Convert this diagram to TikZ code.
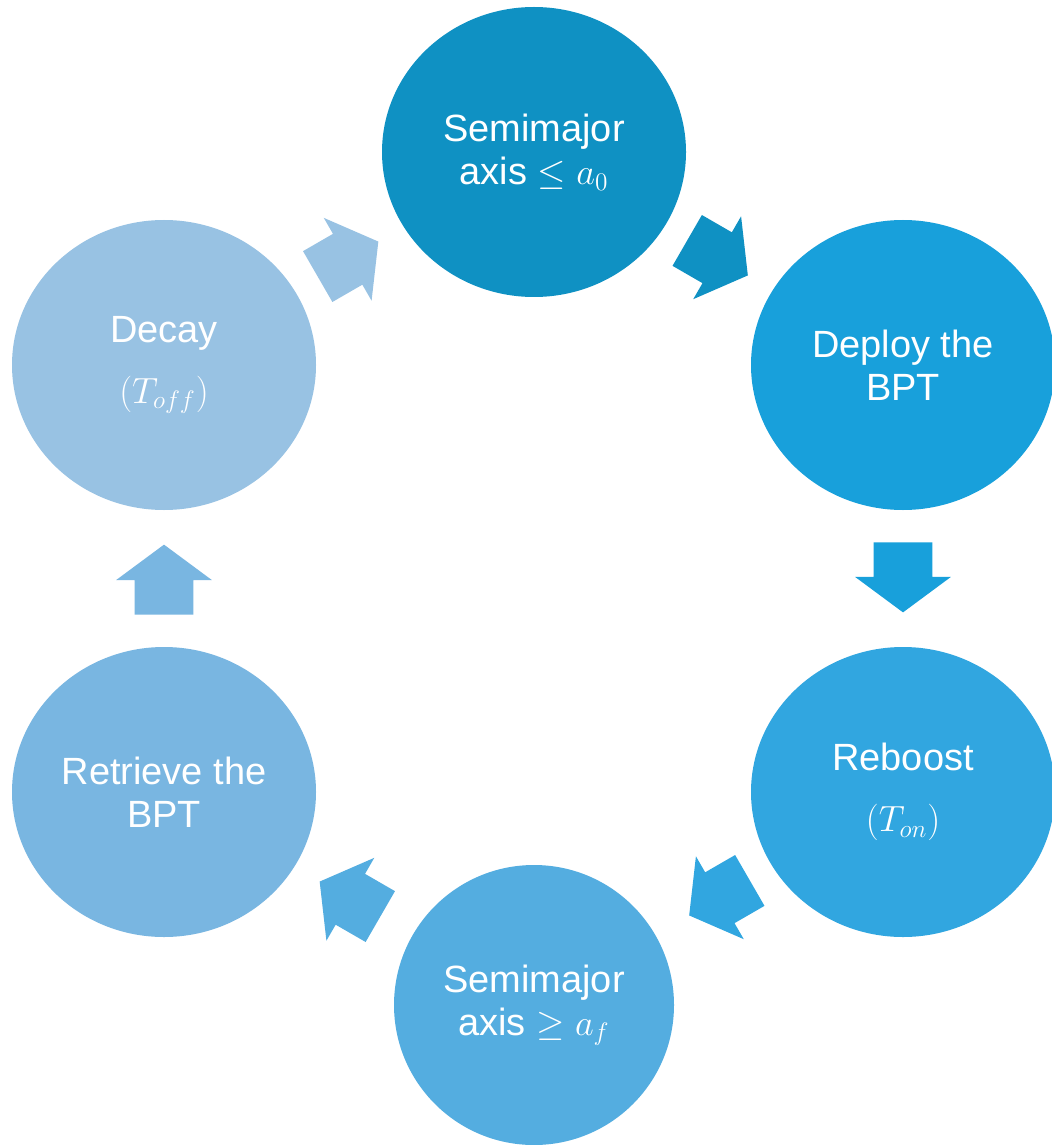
\documentclass[tikz,border=0pt]{standalone}
\usepackage{amsmath}
\usepackage{fontspec}
\setmainfont{Liberation Sans}
\usetikzlibrary{positioning,shapes.geometric,shapes.arrows,calc}
\definecolor{CycleOne}{HTML}{0F91C3}
\definecolor{CycleTwo}{HTML}{18A0DB}
\definecolor{CycleThree}{HTML}{31A6E0}
\definecolor{CycleFour}{HTML}{54ADE0}
\definecolor{CycleFive}{HTML}{79B6E1}
\definecolor{CycleSix}{HTML}{98C2E3}

\tikzset{
  stage/.style={ellipse, minimum width=6.08cm, minimum height=5.8cm, inner sep=0pt,
    align=center, text=white, font=\fontsize{21.6}{24.5}\selectfont},
  cyclearrow/.style={single arrow, minimum width=1.9cm, minimum height=1.4cm,
    single arrow head extend=0.37cm, single arrow tip angle=107,
    inner xsep=0pt, inner ysep=0.58cm, rotate=#1, xshift=-0.24cm}
}

\begin{document}
\begin{tikzpicture}
  \useasboundingbox[fill=white] (0, 0) rectangle (21.02, -22.9);
  \node[stage, fill=CycleOne] (n0) at (10.68, -3.04) {Semimajor\\axis $\leq a_0$};
  \node[stage, fill=CycleTwo] (n1) at (18.06, -7.30) {Deploy the\\BPT};
  \node[stage, fill=CycleThree] (n2) at (18.06, -15.84) {Reboost\\[10pt]$(T_{on})$};
  \node[stage, fill=CycleFour, minimum width=5.6cm, minimum height=5.6cm] (n3) at (10.68, -20.10) {Semimajor\\axis $\geq a_f$};
  \node[stage, fill=CycleFive] (n4) at (3.28, -15.84) {Retrieve the\\BPT};
  \node[stage, fill=CycleSix] (n5) at (3.28, -7.30) {Decay\\[10pt]$(T_{off})$};
  \node[cyclearrow=-30, fill=CycleOne] (a0) at ($(n0)!0.5!(n1)$) {};
  \node[cyclearrow=-90, fill=CycleTwo] (a1) at ($(n1)!0.5!(n2)$) {};
  \node[cyclearrow=-150, fill=CycleThree] (a2) at ($(n2)!0.5!(n3)$) {};
  \node[cyclearrow=150, fill=CycleFour] (a3) at ($(n3)!0.5!(n4)$) {};
  \node[cyclearrow=90, fill=CycleFive] (a4) at ($(n4)!0.5!(n5)$) {};
  \node[cyclearrow=30, fill=CycleSix] (a5) at ($(n5)!0.5!(n0)$) {};
\end{tikzpicture}
\end{document}
